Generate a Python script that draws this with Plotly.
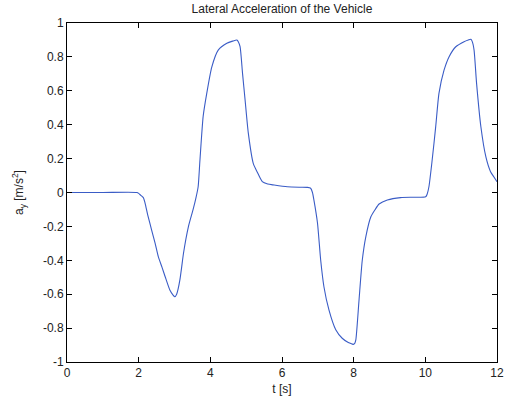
import plotly.graph_objects as go

t = [0.0, 1.0, 1.95, 2.0, 2.05, 2.13, 2.18, 2.25, 2.36, 2.46, 2.55, 2.65, 2.74, 2.87, 2.96, 3.01,
     3.06, 3.10, 3.15, 3.20, 3.25, 3.39, 3.52, 3.60, 3.66, 3.71, 3.80, 3.90, 4.04, 4.22, 4.46,
     4.62, 4.74, 4.78, 4.83, 4.90, 4.97, 5.06, 5.20, 5.31, 5.45, 5.60, 5.78, 6.15, 6.50,
     6.71, 6.80, 6.85, 6.89, 6.99, 7.08, 7.17, 7.31, 7.50, 7.68, 7.85, 7.96, 7.99, 8.03,
     8.06, 8.15, 8.24, 8.34, 8.48, 8.60, 8.71, 8.94, 9.31, 9.70, 10.01, 10.05, 10.10, 10.19,
     10.29, 10.38, 10.52, 10.66, 10.85, 11.08, 11.20, 11.27, 11.31, 11.36, 11.43, 11.55,
     11.69, 11.82, 11.92, 12.0]
ay = [0.0, 0.0, 0.0, -0.005, -0.015, -0.03, -0.064, -0.13, -0.22, -0.30, -0.38, -0.44, -0.497, -0.575, -0.605, -0.615,
      -0.60, -0.57, -0.516, -0.44, -0.36, -0.20, -0.10, -0.03, 0.034, 0.19, 0.45, 0.585, 0.74, 0.84, 0.88,
      0.893, 0.90, 0.89, 0.86, 0.70, 0.546, 0.35, 0.17, 0.12, 0.064, 0.05, 0.044, 0.034, 0.031,
      0.03, 0.025, 0.0, -0.044, -0.18, -0.40, -0.556, -0.693, -0.81, -0.86, -0.885, -0.894, -0.896, -0.89,
      -0.87, -0.634, -0.40, -0.26, -0.143, -0.10, -0.068, -0.044, -0.03, -0.028, -0.025, -0.01, 0.034, 0.19,
      0.39, 0.585, 0.72, 0.80, 0.86, 0.89, 0.90, 0.904, 0.89, 0.84, 0.644, 0.388,
      0.21, 0.123, 0.09, 0.064]

x_ticks = [0, 2, 4, 6, 8, 10, 12]
y_ticks = [-1, -0.8, -0.6, -0.4, -0.2, 0, 0.2, 0.4, 0.6, 0.8, 1]
y_tick_text = ["-1", "-0.8", "-0.6", "-0.4", "-0.2", "0", "0.2", "0.4", "0.6", "0.8", "1"]

fig = go.Figure(go.Scatter(x=t, y=ay, mode="lines", line=dict(color="#3a5cc6", width=1.1),
                           line_shape="spline", line_smoothing=0.6, hoverinfo="skip"))

font = dict(family="Liberation Sans, Arial, sans-serif", size=12, color="#222222")
axis_common = dict(showgrid=False, zeroline=False, showline=True, linecolor="black", linewidth=1,
                   mirror="ticks", ticks="inside", ticklen=5, tickcolor="black", tickfont=font,
                   automargin=False)

fig.update_layout(
    width=508, height=401,
    margin=dict(l=67, r=11, t=23, b=39),
    paper_bgcolor="white", plot_bgcolor="white",
    font=font, showlegend=False,
    title=dict(text="Lateral Acceleration of the Vehicle", x=0.555, xanchor="center",
               y=0.988, yanchor="top", font=dict(family="Liberation Sans, Arial, sans-serif", size=12, color="#222222")),
    xaxis=dict(range=[0, 12], tickvals=x_ticks, title=dict(text="t [s]", standoff=5, font=font), **axis_common),
    yaxis=dict(range=[-1, 1], tickvals=y_ticks, ticktext=y_tick_text,
               title=dict(text="a<sub>y</sub> [m/s<sup>2</sup>]", standoff=16, font=font), **axis_common),
)

fig.write_html("out.html", config={"displayModeBar": False},
               post_script="document.body.style.margin='0';")
